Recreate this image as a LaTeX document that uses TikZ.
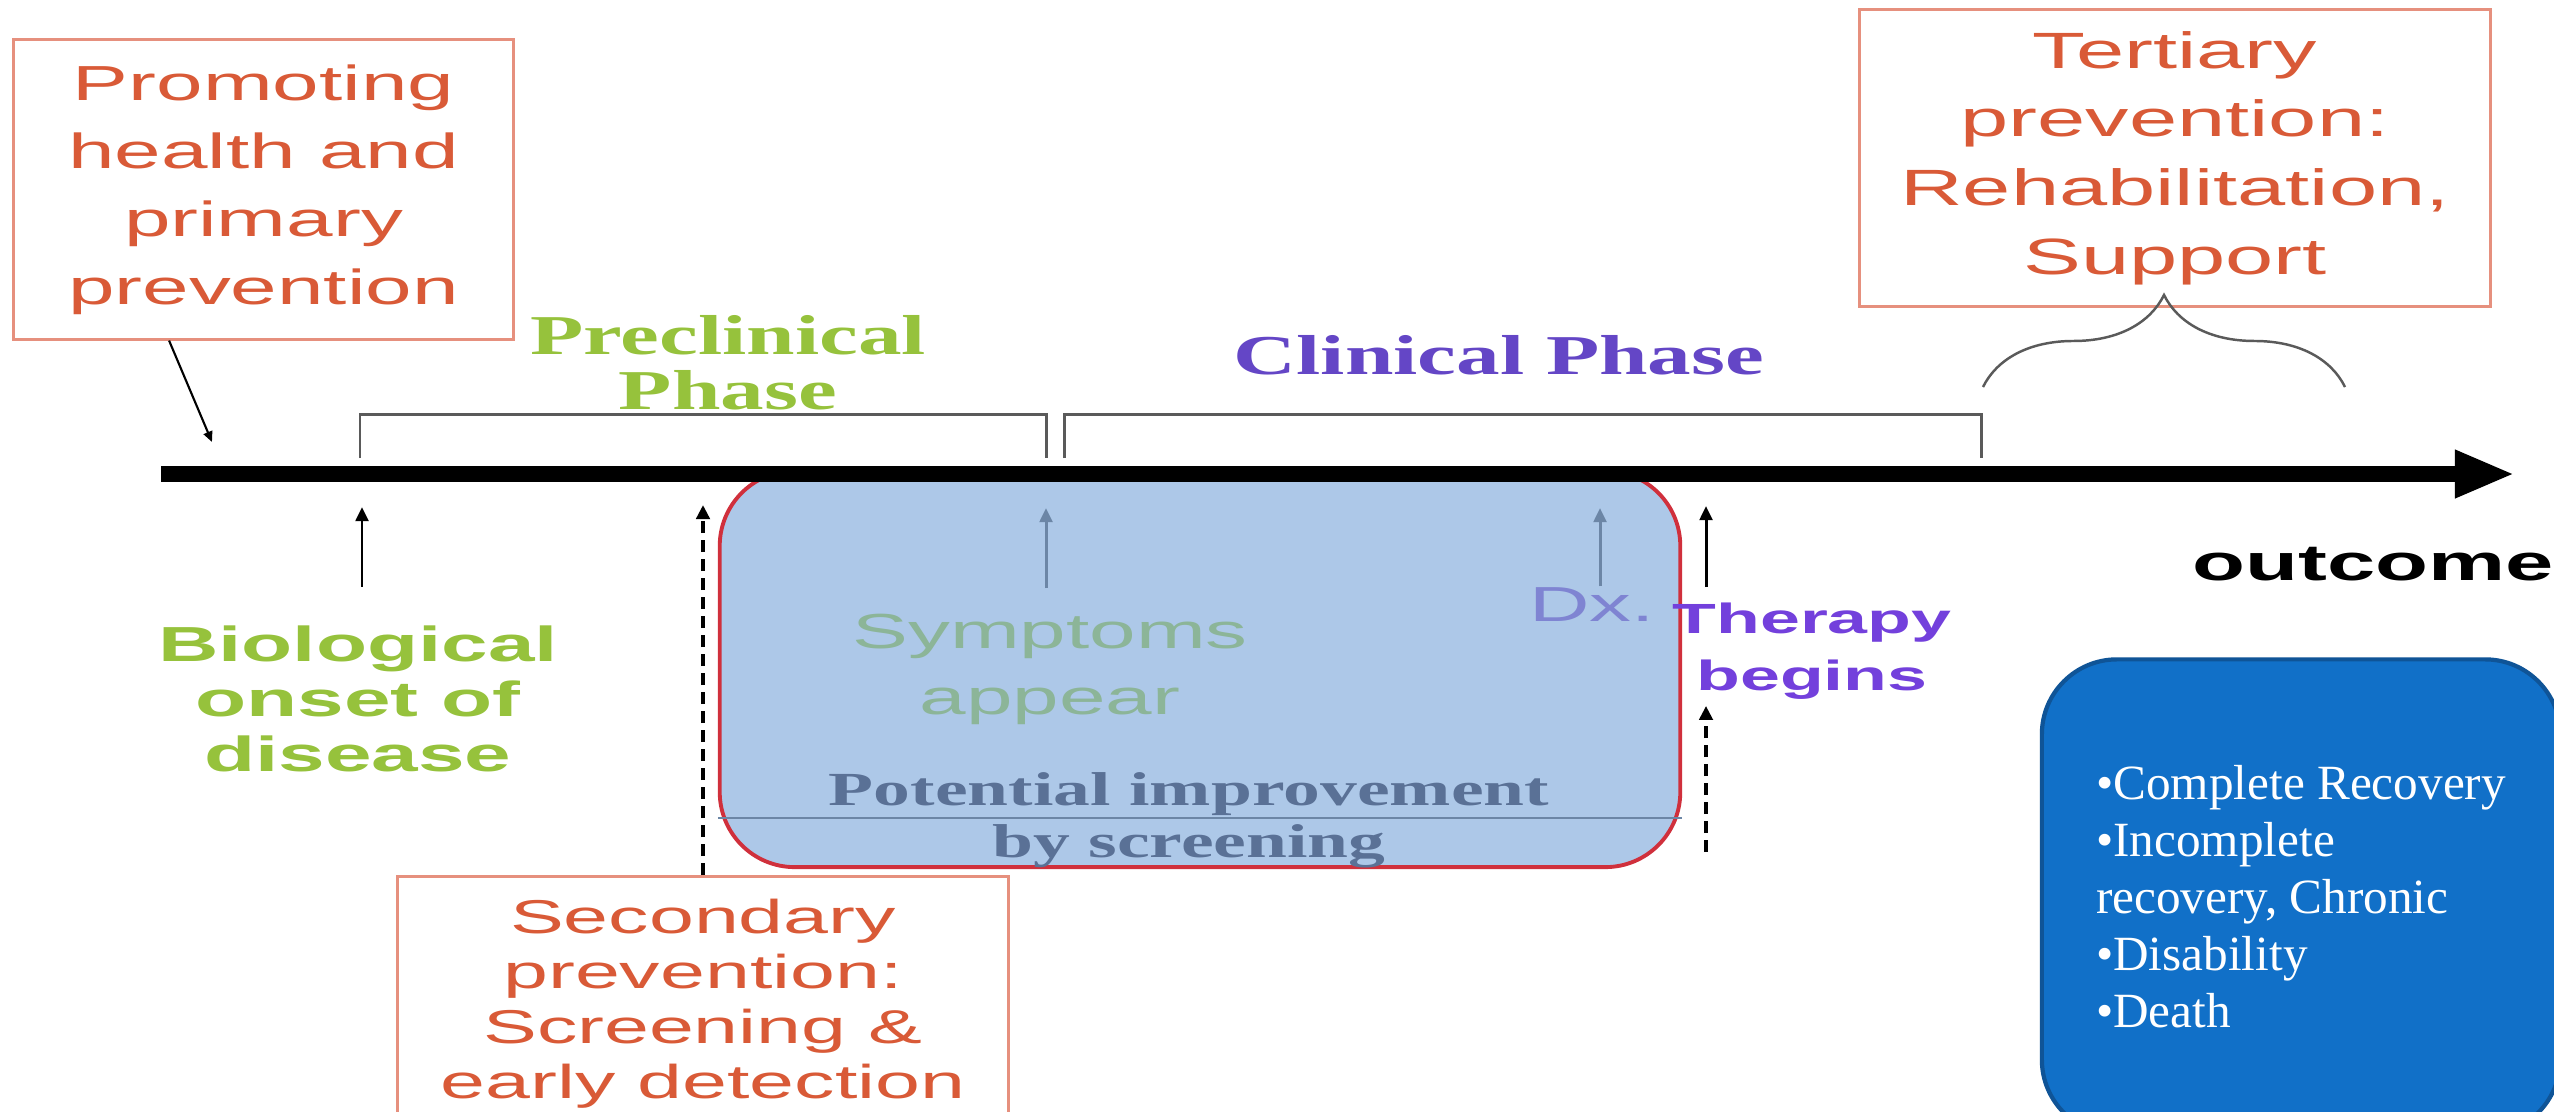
\documentclass[tikz,border=0pt]{standalone}
\usepackage{fontspec}
\usepackage{tikz}
\usetikzlibrary{arrows.meta, decorations.pathreplacing}
\setmainfont{Liberation Serif}
\newfontfamily\arialwide[FakeStretch=1.7]{Liberation Sans}
\newfontfamily\timeswide[FakeStretch=1.55]{Liberation Serif}
\definecolor{prevred}{HTML}{D95A37}
\definecolor{prevframe}{HTML}{E6907E}
\definecolor{phasegreen}{HTML}{96C23C}
\definecolor{phasepurple}{HTML}{6446C6}
\definecolor{therapyviolet}{HTML}{7340DC}
\definecolor{screenfill}{HTML}{ADC8E8}
\definecolor{screenedge}{HTML}{D0303C}
\definecolor{fadegreen}{HTML}{8CB598}
\definecolor{fadepurple}{HTML}{7F84D2}
\definecolor{fadeslate}{HTML}{6C86A6}
\definecolor{slatetext}{HTML}{5A7196}
\definecolor{outfill}{HTML}{1170C8}
\definecolor{outedge}{HTML}{0F5497}
\definecolor{bracketgray}{HTML}{5A5A5A}
\tikzset{
        prev_box/.style={draw=prevframe, line width=0.85pt, text=prevred, align=center, inner sep=0pt},
        prim_size/.style={minimum width=4.99cm, minimum height=2.99cm,
                          font=\arialwide\fontsize{14}{19.3}\selectfont},
        tert_size/.style={minimum width=6.3cm, minimum height=2.96cm,
                          font=\arialwide\fontsize{14.5}{19.5}\selectfont},
        sec_size/.style={minimum width=6.1cm, inner ysep=6.5pt,
                         font=\arialwide\fontsize{13.5}{15.6}\selectfont},
        bio_text/.style={text=phasegreen, align=center, inner sep=0pt,
                         font=\arialwide\bfseries\fontsize{14}{15.6}\selectfont},
        symp_text/.style={text=fadegreen, align=center, inner sep=0pt,
                          font=\arialwide\fontsize{14}{19}\selectfont},
        dx_text/.style={text=fadepurple, inner sep=0pt, font=\arialwide\fontsize{14}{16}\selectfont},
        ther_text/.style={text=therapyviolet, align=center, inner sep=0pt,
                          font=\arialwide\bfseries\fontsize{12}{16.2}\selectfont},
        pot_text/.style={text=slatetext, align=center, inner sep=0pt,
                         font=\timeswide\bfseries\fontsize{13.5}{14.8}\selectfont},
        pre_text/.style={text=phasegreen, align=center, inner sep=0pt,
                         font=\timeswide\bfseries\fontsize{16}{15.6}\selectfont},
        clin_text/.style={text=phasepurple, inner sep=0pt,
                          font=\timeswide\bfseries\fontsize{16}{16}\selectfont},
        outcome_text/.style={text=black, inner sep=0pt,
                             font=\arialwide\bfseries\fontsize{14.5}{16}\selectfont},
        screen_box/.style={draw=screenedge, fill=screenfill, line width=1.1pt,
                           rounded corners=0.75cm, minimum width=9.6cm, minimum height=3.96cm},
        result_box/.style={draw=outedge, fill=outfill, line width=1.2pt, text=white,
                           rounded corners=0.75cm, minimum width=5.18cm, minimum height=4.75cm,
                           align=left, font=\fontsize{14}{16.2}\selectfont},
        time_line/.style={line width=4.3pt, -{Triangle[length=0.6cm, width=0.44cm]}},
        phase_bracket/.style={draw=bracketgray, line width=0.85pt},
        brace_line/.style={draw=bracketgray, line width=0.7pt, decorate,
                           decoration={brace, amplitude=0.92cm}},
        tick_arrow/.style={line width=0.85pt, -{Triangle[length=4pt, width=3.6pt]}},
        fade_arrow/.style={draw=fadeslate, line width=0.85pt, -{Triangle[length=4pt, width=3.6pt]}},
        dash_arrow/.style={line width=1.1pt, dash pattern=on 3.4pt off 2pt,
                           -{Triangle[length=4pt, width=3.8pt]}},
        pointer_arrow/.style={line width=0.6pt, -{Triangle[length=3pt, width=2.6pt]}}
    }
\begin{document}
\begin{tikzpicture}[x=0.01cm, y=-0.01cm]
    \fill[white] (0,0) rectangle (2554,1111);
    \clip (0,0) rectangle (2554,1111);
    \node[screen_box] (screen) at (1200,669) {};
    \coordinate (tip_symp) at (1046,508);
    \coordinate (tip_dx) at (1600,508);
    \coordinate (pot_y) at (0,818);
    \node[symp_text, anchor=north] (symp) at (1050,613) {Symptoms\\appear};
    \node[dx_text, anchor=base] (dx) at (1592,621) {Dx.};
    \draw[fade_arrow, shorten <=0.25cm] (symp.north -| tip_symp) -- (tip_symp);
    \draw[fade_arrow] (dx.north -| tip_dx) -- (tip_dx);
    \draw[fadeslate, line width=0.7pt] (screen.west |- pot_y) -- (screen.east |- pot_y);
    \node[pot_text, anchor=north] (pot) at (1189,772) {Potential improvement\\by screening};
    \coordinate (tl_start) at (161,474);
    \coordinate (tl_end) at (2515,474);
    \draw[time_line] (tl_start) -- (tl_end);
    \draw[phase_bracket] (360,458) |- (1046,414) -- (1046,458);
    \draw[phase_bracket] (1064,458) |- (1981,414) -- (1981,458);
    \node[pre_text, anchor=north] (preclin) at (728,315) {Preclinical\\Phase};
    \node[clin_text, anchor=base] (clin) at (1499,374) {Clinical Phase};
    \node[prev_box, tert_size] (tert) at (2175,158) {Tertiary\\prevention:\\Rehabilitation,\\Support};
    \coordinate (br_l) at (1983,387);
    \coordinate (br_r) at (2345,387);
    \draw[brace_line] (br_l) -- (br_r);
    \node[prev_box, prim_size] (prim) at (263.5,189.5) {Promoting\\health and\\primary\\prevention};
    \coordinate (ptr_tip) at (212,442);
    \draw[pointer_arrow] (prim.238) -- (ptr_tip);
    \coordinate (tip_bio) at (362,507);
    \node[bio_text, anchor=north] (bio) at (358,625) {Biological\\onset of\\disease};
    \draw[tick_arrow, shorten <=0.38cm] (bio.north -| tip_bio) -- (tip_bio);
    \coordinate (tip_scr) at (703,505);
    \node[prev_box, sec_size, anchor=north] (sec) at (703,875) {Secondary\\prevention:\\Screening \&\\early detection};
    \draw[dash_arrow] (sec.north) -- (tip_scr);
    \coordinate (tip_ther) at (1706,506);
    \coordinate (ther_low) at (1706,852);
    \node[ther_text, anchor=north] (ther) at (1812,602) {Therapy\\begins};
    \draw[tick_arrow, shorten <=0.15cm] (ther.north -| tip_ther) -- (tip_ther);
    \draw[dash_arrow, shorten >=0.06cm] (ther_low) -- (ther.south -| ther_low);
    \node[outcome_text, anchor=base] (outc) at (2373,580) {outcome};
    \node[result_box] (result) at (2301,897) {•Complete Recovery\\•Incomplete\\recovery, Chronic\\•Disability\\•Death};
\end{tikzpicture}
\end{document}
